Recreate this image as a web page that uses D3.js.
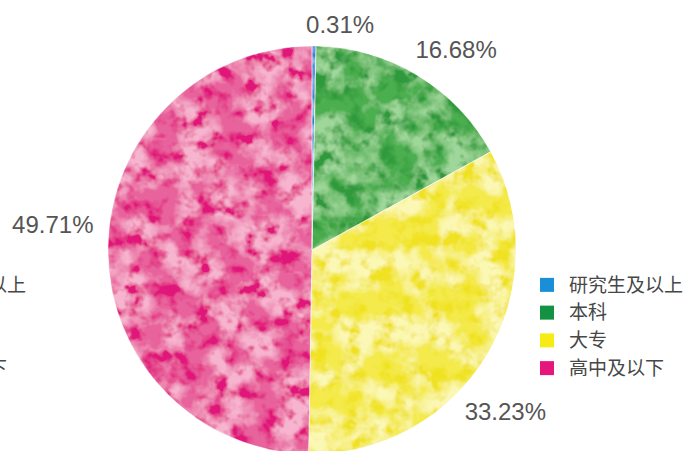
<!DOCTYPE html>
<html>
<head>
<meta charset="utf-8">
<script src="https://cdn.jsdelivr.net/npm/d3@7"></script>
<style>
  body { margin: 0; background: #fff; }
  svg { display: block; }
  .pct { font-family: "Liberation Sans", Arial, sans-serif; font-size: 24px; fill: #555; }
  .leg { font-family: "Noto Sans CJK SC", sans-serif; font-size: 19px; fill: #474747; }
</style>
</head>
<body>
<svg id="chart" width="691" height="451"></svg>
<script>
// data
var categories = ["研究生及以上", "本科", "大专", "高中及以下"];
var shares = [0.31, 16.68, 33.23, 49.71];
var shareLabels = ["0.31%", "16.68%", "33.23%", "49.71%"];

// colours: base, light blotch, dark blotch
var baseColors = ["#4e96dc", "#4cae4f", "#f4ea4c", "#e8629c"];
var lightColors = ["#a9cdf2", "#9fd79a", "#fbf7b4", "#f6b4cf"];
var darkColors = ["#1f7fd0", "#2f9a3c", "#f0e220", "#e0187a"];
var legendColors = ["#1a8fd8", "#139244", "#f6eb14", "#e5177c"];

var width = 691, height = 451;
var cx = 312, cy = 250, radius = 204;

var svg = d3.select("#chart");
var defs = svg.append("defs");

// one mottled texture filter per slice
categories.forEach(function(c, i){
	var f = defs.append("filter")
		.attr("id", "mottle" + i)
		.attr("x", "0%").attr("y", "0%")
		.attr("width", "100%").attr("height", "100%");

	f.append("feTurbulence")
		.attr("type", "fractalNoise")
		.attr("baseFrequency", "0.03")
		.attr("numOctaves", 4)
		.attr("seed", 3 + i)
		.attr("result", "n1");
	f.append("feColorMatrix")
		.attr("in", "n1")
		.attr("type", "matrix")
		.attr("values", "0 0 0 0 0  0 0 0 0 0  0 0 0 0 0  4 0 0 0 -1.6")
		.attr("result", "a1");
	f.append("feFlood").attr("flood-color", lightColors[i]).attr("result", "c1");
	f.append("feComposite").attr("in", "c1").attr("in2", "a1").attr("operator", "in").attr("result", "l1");

	f.append("feTurbulence")
		.attr("type", "fractalNoise")
		.attr("baseFrequency", "0.06")
		.attr("numOctaves", 3)
		.attr("seed", 11 + i)
		.attr("result", "n2");
	f.append("feColorMatrix")
		.attr("in", "n2")
		.attr("type", "matrix")
		.attr("values", "0 0 0 0 0  0 0 0 0 0  0 0 0 0 0  0 4 0 0 -1.85")
		.attr("result", "a2");
	f.append("feFlood").attr("flood-color", darkColors[i]).attr("result", "c2");
	f.append("feComposite").attr("in", "c2").attr("in2", "a2").attr("operator", "in").attr("result", "d2");

	var m = f.append("feMerge").attr("result", "all");
	m.append("feMergeNode").attr("in", "SourceGraphic");
	m.append("feMergeNode").attr("in", "l1");
	m.append("feMergeNode").attr("in", "d2");

	f.append("feComposite").attr("in", "all").attr("in2", "SourceGraphic").attr("operator", "in");
});

var pie = d3.pie().sort(null).value(function(d) { return d; });
var arc = d3.arc().innerRadius(0).outerRadius(radius);
var arcs = pie(shares);

var g = svg.append("g").attr("transform", "translate(" + cx + "," + cy + ")");

g.selectAll(".slice")
	.data(arcs)
	.enter()
	.append("path")
	.attr("class", "slice")
	.attr("d", arc)
	.attr("fill", function(d, i) { return baseColors[i]; })
	.attr("filter", function(d, i) { return "url(#mottle" + i + ")"; });

// thin light seams between slices
g.selectAll(".seam")
	.data(arcs)
	.enter()
	.append("path")
	.attr("class", "seam")
	.attr("d", arc)
	.attr("fill", "none")
	.attr("stroke", "#fff")
	.attr("stroke-opacity", 0.5)
	.attr("stroke-width", 0.8);

// percentage labels: angle (rad, clockwise from 12 o'clock) and distance from centre
var labelAngle = [0.124, 0.623, 2.267, -1.453];
var labelDist = [227, 247, 252, 220];
var labelAnchor = ["middle", "middle", "middle", "end"];

svg.selectAll(".pct")
	.data(arcs)
	.enter()
	.append("text")
	.attr("class", "pct")
	.attr("text-anchor", function(d, i) { return labelAnchor[i]; })
	.attr("x", function(d, i) { return cx + Math.sin(labelAngle[i]) * labelDist[i]; })
	.attr("y", function(d, i) { return cy - Math.cos(labelAngle[i]) * labelDist[i]; })
	.attr("dy", "0.35em")
	.text(function(d, i) { return shareLabels[i]; });

// legend on the right
var legY = d3.scaleBand().domain(categories).range([271, 382]);

var leg = svg.append("g").attr("class", "legend");
leg.selectAll("rect")
	.data(categories)
	.enter()
	.append("rect")
	.attr("x", 540)
	.attr("y", function(d) { return legY(d) + legY.bandwidth()/2 - 7; })
	.attr("width", 14)
	.attr("height", 14)
	.attr("fill", function(d, i) { return legendColors[i]; });

leg.selectAll("text")
	.data(categories)
	.enter()
	.append("text")
	.attr("class", "leg")
	.attr("x", 569)
	.attr("y", function(d) { return legY(d) + legY.bandwidth()/2; })
	.attr("dy", "0.36em")
	.text(function(d) { return d; });

// cut-off copy of the legend at the left edge
svg.append("g").selectAll("text")
	.data(categories)
	.enter()
	.append("text")
	.attr("class", "leg")
	.attr("x", -88)
	.attr("y", function(d) { return legY(d) + legY.bandwidth()/2; })
	.attr("dy", "0.36em")
	.text(function(d) { return d; });
</script>
</body>
</html>
